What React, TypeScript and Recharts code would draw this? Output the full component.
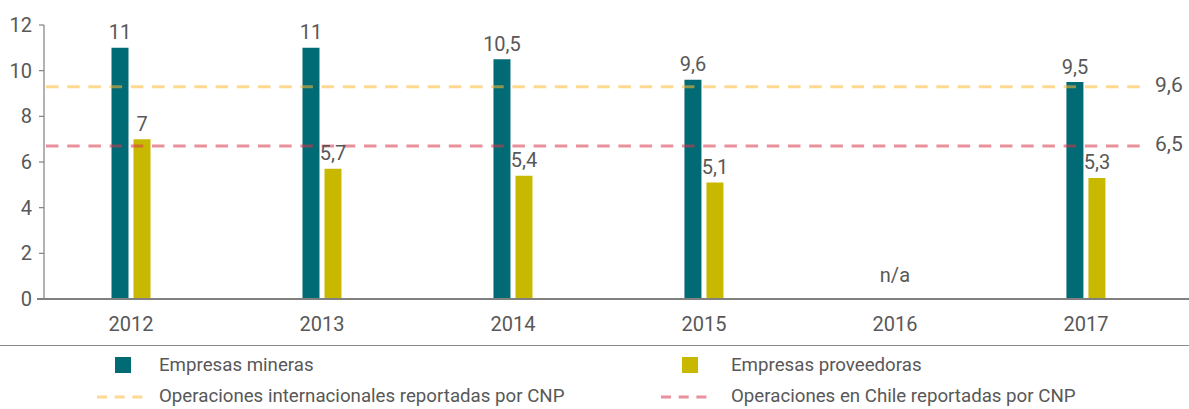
import React from 'react';
import { BarChart, Bar, XAxis, YAxis, ReferenceLine, ReferenceDot, LabelList } from 'recharts';

const categories = ['2012', '2013', '2014', '2015', '2016', '2017'];
const mineras = [11, 11, 10.5, 9.6, null, 9.5];
const proveedoras = [7, 5.7, 5.4, 5.1, null, 5.3];
const yTicks = [0, 2, 4, 6, 8, 10, 12];
const refValues = [9.3, 6.7];
const refLabels = ['9,6', '6,5'];
const naCategory = '2016';
const naText = 'n/a';
const seriesNames = ['Empresas mineras', 'Empresas proveedoras'];
const refNames = ['Operaciones internacionales reportadas por CNP', 'Operaciones en Chile reportadas por CNP'];

const TEAL = '#006a75';
const YELLOW = '#c9b800';
const ORANGE = '#fdb933';
const PINK = '#d9354a';
const REF_COLORS = [ORANGE, PINK];
const TEXT = '#585858';
const AXIS = '#808080';
const FONT = 'Roboto, "Liberation Sans", Arial, sans-serif';

const data = categories.map((c, i) => ({ year: c, mineras: mineras[i], proveedoras: proveedoras[i] }));

const fmt = (v: any) => (v === null || v === undefined ? '' : String(v).replace('.', ','));

const makeRefShape = (label: string, color: string) => (props: any) => {
  const { x1, y1, x2 } = props;
  const end = x2 - 47;
  return (
    <g>
      <line x1={x1 + 2} y1={y1} x2={end} y2={y1} stroke={color} strokeOpacity={0.55} strokeWidth={3} strokeDasharray="12.5 8.7" />
      <text x={end + 13} y={y1 - 2} dy="0.35em" fontSize={21} fill={TEXT} fontFamily={FONT}>{label}</text>
    </g>
  );
};

const xAxisLineShape = (props: any) => {
  const { x1, y1, x2 } = props;
  return <line x1={x1 - 7} y1={y1} x2={x2} y2={y1} stroke={AXIS} strokeWidth={2} />;
};

const LegendSquare = ({ color }: { color: string }) => (
  <div style={{ width: 16, height: 16, background: color }} />
);

const LegendDash = ({ color }: { color: string }) => (
  <svg width={47} height={6} style={{ display: 'block' }}>
    <line x1={0} y1={3} x2={47} y2={3} stroke={color} strokeOpacity={0.55} strokeWidth={3} strokeDasharray="10 7.7" />
  </svg>
);

export default function App() {
  const legendText: React.CSSProperties = {
    position: 'absolute',
    fontSize: 18.7,
    color: TEXT,
    fontFamily: FONT,
    lineHeight: '22px',
    whiteSpace: 'nowrap',
  };
  return (
    <div style={{ position: 'absolute', left: 0, top: 0, width: 1189, height: 409, background: '#fff', fontFamily: FONT }}>
      <BarChart
        width={1189}
        height={345}
        data={data}
        margin={{ top: 25, right: 0, bottom: 0, left: 0 }}
        barSize={17}
        barGap={5}
        barCategoryGap={0}
      >
        <XAxis
          dataKey="year"
          height={46}
          axisLine={false}
          tickLine={false}
          tickSize={0}
          tickMargin={18}
          padding={{ left: -8.5, right: 7.6 }}
          tick={{ fontSize: 20, fill: TEXT, fontFamily: FONT }}
          interval={0}
        />
        <YAxis
          width={44}
          domain={[0, 12]}
          ticks={yTicks}
          interval={0}
          axisLine={{ stroke: AXIS, strokeWidth: 1.2 }}
          tickLine={{ stroke: AXIS, strokeWidth: 1.2 }}
          tickSize={5}
          tickMargin={7}
          tick={{ fontSize: 20, fill: TEXT, fontFamily: FONT }}
        />
        <Bar dataKey="mineras" fill={TEAL} isAnimationActive={false}>
          <LabelList dataKey="mineras" position="top" offset={8.5} formatter={fmt} style={{ fontSize: 20, fill: TEXT, fontFamily: FONT }} />
        </Bar>
        <Bar dataKey="proveedoras" fill={YELLOW} isAnimationActive={false}>
          <LabelList dataKey="proveedoras" position="top" offset={8.5} formatter={fmt} style={{ fontSize: 20, fill: TEXT, fontFamily: FONT }} />
        </Bar>
        {refValues.map((v, i) => (
          <ReferenceLine key={i} y={v} ifOverflow="visible" shape={makeRefShape(refLabels[i], REF_COLORS[i])} />
        ))}
        <ReferenceLine y={0} ifOverflow="visible" shape={xAxisLineShape} />
        <ReferenceDot
          x={naCategory}
          y={0}
          r={0}
          ifOverflow="visible"
          fill="none"
          stroke="none"
          label={{ value: naText, position: 'top', offset: 17, fontSize: 20, fill: TEXT, fontFamily: FONT }}
        />
      </BarChart>
      <div style={{ position: 'absolute', left: 0, top: 344.5, width: 1189, height: 1.6, background: '#8a8a8a' }} />
      <div style={{ position: 'absolute', left: 115, top: 357 }}><LegendSquare color={TEAL} /></div>
      <div style={{ ...legendText, left: 159, top: 354 }}>{seriesNames[0]}</div>
      <div style={{ position: 'absolute', left: 682, top: 357 }}><LegendSquare color={YELLOW} /></div>
      <div style={{ ...legendText, left: 731, top: 354 }}>{seriesNames[1]}</div>
      <div style={{ position: 'absolute', left: 97, top: 394 }}><LegendDash color={REF_COLORS[0]} /></div>
      <div style={{ ...legendText, left: 159, top: 385 }}>{refNames[0]}</div>
      <div style={{ position: 'absolute', left: 661, top: 394 }}><LegendDash color={REF_COLORS[1]} /></div>
      <div style={{ ...legendText, left: 731, top: 385 }}>{refNames[1]}</div>
    </div>
  );
}
